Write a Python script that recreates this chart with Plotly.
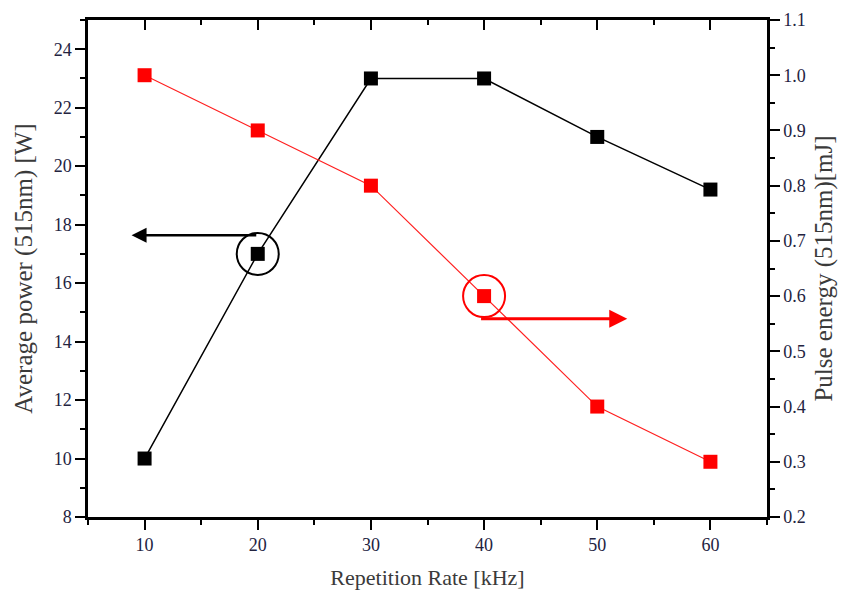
import plotly.graph_objects as go

rate_khz = [10, 20, 30, 40, 50, 60]
avg_power_w = [10, 17, 23, 23, 21, 19.2]
pulse_energy_mj = [1.0, 0.9, 0.8, 0.6, 0.4, 0.3]

x_ticks = [10, 20, 30, 40, 50, 60]

FONT = "Liberation Serif, Times New Roman, serif"
TICKC = "#23233f"
TITLEC = "#3a3a3a"

fig = go.Figure()

fig.add_trace(go.Scatter(
    x=rate_khz, y=avg_power_w, mode="lines+markers", yaxis="y", xaxis="x",
    line=dict(color="black", width=1.5),
    marker=dict(symbol="square", size=14, color="black"),
    showlegend=False,
))
fig.add_trace(go.Scatter(
    x=rate_khz, y=pulse_energy_mj, mode="lines+markers", yaxis="y2", xaxis="x",
    line=dict(color="#ff2020", width=1.2),
    marker=dict(symbol="square", size=14, color="#ff0000"),
    showlegend=False,
))

common_tick = dict(ticklen=10, tickwidth=2.2, tickcolor="black", automargin=False,
                   linecolor="black", linewidth=2.5, showgrid=False, zeroline=False,
                   tickfont=dict(family=FONT, size=18, color=TICKC))

fig.update_layout(
    width=847, height=594,
    margin=dict(l=88, r=80, t=20, b=77),
    paper_bgcolor="white", plot_bgcolor="white",
    font=dict(family=FONT),
    xaxis=dict(
        range=[5, 65], tickvals=x_ticks, ticks="outside", showline=True,
        minor=dict(dtick=5, tick0=5, ticklen=5, tickwidth=2.2, ticks="outside", tickcolor="black"),
        title=dict(text="Repetition Rate [kHz]", font=dict(family=FONT, size=22, color=TITLEC), standoff=16),
        **common_tick,
    ),
    xaxis2=dict(
        range=[5, 65], tickvals=x_ticks, ticks="inside", showline=True, side="top",
        overlaying="x", anchor="y", showticklabels=False,
        minor=dict(dtick=5, tick0=5, ticklen=5, tickwidth=2.2, ticks="inside", tickcolor="black"),
        **{k: v for k, v in common_tick.items() if k != "tickfont"},
    ),
    yaxis=dict(
        range=[8, 25], dtick=2, tick0=8, ticks="outside", showline=True,
        minor=dict(dtick=1, ticklen=5, tickwidth=2.2, ticks="outside", tickcolor="black"),
        title=dict(text="Average power (515nm) [W]", font=dict(family=FONT, size=25, color=TITLEC), standoff=14),
        **common_tick,
    ),
    yaxis2=dict(
        range=[0.2, 1.1], dtick=0.1, tick0=0.2, tickformat=".1f", ticks="outside", showline=True,
        side="right", overlaying="y", anchor="x",
        minor=dict(dtick=0.05, ticklen=5, tickwidth=2.2, ticks="outside", tickcolor="black"),
        title=dict(text="Pulse energy (515nm)[mJ]", font=dict(family=FONT, size=25, color=TITLEC), standoff=10),
        **common_tick,
    ),
)

# dummy trace to activate xaxis2
fig.add_trace(go.Scatter(x=[None], y=[None], xaxis="x2", yaxis="y", showlegend=False, hoverinfo="skip"))

# highlight circles
fig.add_shape(type="circle", xref="x", yref="y", xsizemode="pixel", ysizemode="pixel",
              xanchor=20, yanchor=17, x0=-21, x1=21, y0=-21, y1=21,
              line=dict(color="black", width=2))
fig.add_shape(type="circle", xref="x", yref="y2", xsizemode="pixel", ysizemode="pixel",
              xanchor=40, yanchor=0.6, x0=-21, x1=21, y0=-21, y1=21,
              line=dict(color="#ff0000", width=2))

# arrows
fig.add_annotation(x=8.85, y=17.64, xref="x", yref="y", ax=20, ay=17.64, axref="x", ayref="y",
                   showarrow=True, arrowhead=2, arrowsize=1.2, arrowwidth=2.5, arrowcolor="black", text="")
fig.add_annotation(x=52.65, y=0.559, xref="x", yref="y2", ax=39.6, ay=0.559, axref="x", ayref="y2",
                   showarrow=True, arrowhead=2, arrowsize=1.2, arrowwidth=3, arrowcolor="#ff0000", text="")

fig.write_html("out.html")
